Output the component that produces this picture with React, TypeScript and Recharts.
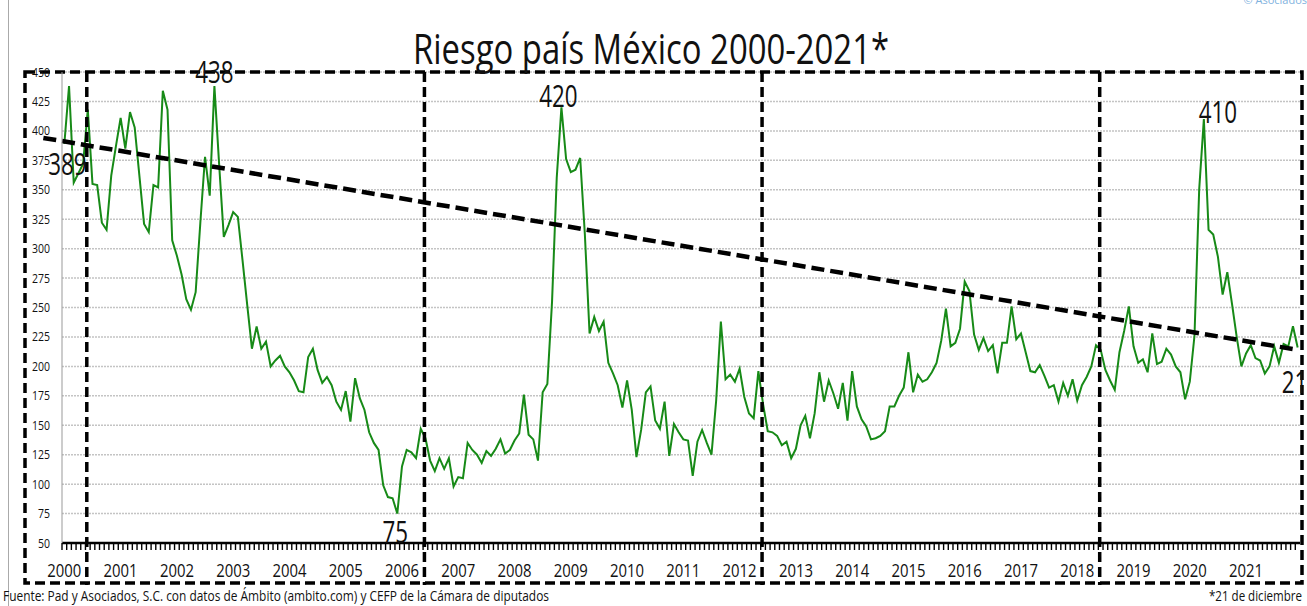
import React from "react";
import {
  LineChart,
  Line,
  XAxis,
  YAxis,
  CartesianGrid,
  ReferenceLine,
  ReferenceArea,
  LabelList,
} from "recharts";

const FONT = "'Liberation Sans Narrow', 'Arial Narrow', 'Open Sans', sans-serif";

const years = [
  "2000", "2001", "2002", "2003", "2004", "2005", "2006", "2007", "2008", "2009", "2010",
  "2011", "2012", "2013", "2014", "2015", "2016", "2017", "2018", "2019", "2020", "2021",
];

// puntos base, un valor por mes
const riesgo2000 = [389, 438, 356, 364, 372, 418, 355, 354, 322, 316, 362, 387];
const riesgo2001 = [411, 385, 416, 403, 362, 321, 314, 354, 352, 434, 418, 307];
const riesgo2002 = [294, 278, 257, 248, 263, 322, 378, 345, 438, 372, 310, 320];
const riesgo2003 = [331, 327, 290, 252, 215, 234, 215, 221, 200, 205, 209, 200];
const riesgo2004 = [195, 188, 179, 178, 208, 215, 197, 186, 191, 184, 170, 163];
const riesgo2005 = [179, 153, 190, 173, 163, 144, 135, 129, 99, 89, 88, 75];
const riesgo2006 = [115, 129, 127, 122, 147, 139, 120, 111, 122, 113, 122, 98];
const riesgo2007 = [106, 105, 135, 129, 125, 118, 128, 124, 130, 138, 126, 129];
const riesgo2008 = [137, 143, 176, 142, 138, 120, 178, 185, 255, 360, 420, 376];
const riesgo2009 = [365, 367, 377, 312, 228, 242, 230, 238, 203, 194, 184, 165];
const riesgo2010 = [188, 163, 123, 146, 178, 183, 154, 147, 170, 124, 151, 144];
const riesgo2011 = [138, 137, 107, 136, 146, 135, 125, 171, 238, 189, 193, 187];
const riesgo2012 = [198, 174, 160, 156, 196, 168, 145, 144, 141, 133, 136, 122];
const riesgo2013 = [130, 150, 158, 139, 160, 195, 170, 188, 177, 164, 186, 154];
const riesgo2014 = [196, 166, 155, 149, 138, 139, 141, 145, 166, 166, 175, 182];
const riesgo2015 = [212, 178, 193, 187, 189, 195, 203, 222, 249, 217, 220, 232];
const riesgo2016 = [272, 264, 227, 214, 224, 213, 218, 194, 220, 220, 251, 223];
const riesgo2017 = [228, 212, 196, 195, 201, 192, 182, 184, 170, 186, 175, 189];
const riesgo2018 = [171, 184, 191, 200, 218, 214, 197, 188, 180, 212, 230, 251];
const riesgo2019 = [217, 203, 206, 195, 228, 202, 204, 215, 210, 200, 195, 172];
const riesgo2020 = [187, 226, 350, 410, 316, 312, 293, 261, 280, 253, 225, 200];
const riesgo2021 = [211, 218, 207, 205, 194, 200, 217, 203, 219, 217, 234, 216];

const riesgoPorAnio = [
  riesgo2000, riesgo2001, riesgo2002, riesgo2003, riesgo2004, riesgo2005, riesgo2006,
  riesgo2007, riesgo2008, riesgo2009, riesgo2010, riesgo2011, riesgo2012, riesgo2013,
  riesgo2014, riesgo2015, riesgo2016, riesgo2017, riesgo2018, riesgo2019, riesgo2020,
  riesgo2021,
];

const yTicks = [50, 75, 100, 125, 150, 175, 200, 225, 250, 275, 300, 325, 350, 375, 400, 425, 450];

// linea de tendencia: valor al inicio y al final
const tendencia = [391, 214];
// elecciones presidenciales
const sexenios = ["2000-06", "2006-06", "2012-06", "2018-06"];
// meses con etiqueta
const picos = [0, 32, 71, 106, 243, 263];

const data = years.flatMap((y, i) =>
  riesgoPorAnio[i].map((v, m) => ({
    mes: `${y}-${String(m + 1).padStart(2, "0")}`,
    riesgo: v,
  }))
);

const labelPos: Record<number, { dx: number; dy: number; anchor: string }> = {
  0: { dx: 3, dy: 31, anchor: "middle" },
  32: { dx: 0, dy: -3, anchor: "middle" },
  71: { dx: -2, dy: 29, anchor: "middle" },
  106: { dx: -3, dy: 0, anchor: "middle" },
  243: { dx: 14, dy: 4, anchor: "middle" },
  263: { dx: -16, dy: 45, anchor: "start" },
};

function PeakLabel(p: any) {
  if (!picos.includes(p.index)) return null;
  const pos = labelPos[p.index];
  const txt = String(p.value);
  return (
    <text
      x={p.x + pos.dx}
      y={p.y + pos.dy}
      textAnchor={pos.anchor}
      fontSize={31}
      fontFamily={FONT}
      fill="#111"
      textLength={txt.length * 12.8}
      lengthAdjust="spacingAndGlyphs"
    >
      {txt}
    </text>
  );
}

function YearTick(p: any) {
  const val: string = p.payload?.value ?? "";
  const isJan = val.endsWith("-01");
  return (
    <g>
      <line x1={p.x - 2.35} x2={p.x - 2.35} y1={p.y} y2={p.y + 7} stroke="#000" strokeWidth={1.4} />
      {isJan && (
        <text
          x={p.x}
          y={p.y + 34}
          textAnchor="middle"
          fontSize={18}
          fontFamily={FONT}
          fill="#111"
          textLength={34}
          lengthAdjust="spacingAndGlyphs"
        >
          {val.slice(0, 4)}
        </text>
      )}
    </g>
  );
}

function ValueTick(p: any) {
  const txt = String(p.payload?.value ?? "");
  return (
    <text
      x={p.x}
      y={p.y + 4.5}
      textAnchor="end"
      fontSize={13}
      fontFamily={FONT}
      fill="#111"
      textLength={txt.length * 6}
      lengthAdjust="spacingAndGlyphs"
    >
      {txt}
    </text>
  );
}

const dash = { stroke: "#000", strokeWidth: 3.5, strokeDasharray: "10 5", fill: "none" };

export default function App() {
  const last = data[data.length - 1].mes;
  return (
    <div style={{ position: "absolute", left: 0, top: 0, width: 1307, height: 606, background: "#fff" }}>
      <LineChart
        width={1307}
        height={606}
        data={data}
        margin={{ top: 72, right: 7, bottom: 23, left: 0 }}
      >
        <CartesianGrid vertical={false} stroke="#c4c4c4" strokeWidth={1.5} strokeDasharray="2 1" />
        <XAxis
          dataKey="mes"
          interval={0}
          height={40}
          tickSize={0}
          tickMargin={0}
          padding={{ left: 2.35, right: 2.35 }}
          axisLine={{ stroke: "#000", strokeWidth: 2.5 }}
          tickLine={false}
          tick={(p: any) => <YearTick {...p} />}
        />
        <YAxis
          width={62}
          domain={[50, 450]}
          ticks={yTicks}
          interval={0}
          axisLine={{ stroke: "#999" }}
          tickLine={false}
          tickMargin={6}
          tick={(p: any) => <ValueTick {...p} />}
        />
        <Line
          dataKey="riesgo"
          stroke="#178a17"
          strokeWidth={2}
          dot={false}
          isAnimationActive={false}
        >
          <LabelList dataKey="riesgo" content={(p: any) => <PeakLabel {...p} />} />
        </Line>
        <ReferenceArea
          x1={data[0].mes}
          x2={last}
          y1={50}
          y2={450}
          ifOverflow="visible"
          shape={(p: any) => (
            <rect
              x={p.x - 39.35}
              y={p.y}
              width={p.width + 43.7}
              height={p.height + 40}
              {...dash}
            />
          )}
        />
        {sexenios.map((s) => (
          <ReferenceLine
            key={s}
            x={s}
            ifOverflow="visible"
            shape={(p: any) => (
              <line
                x1={p.x1 - 1}
                x2={p.x2 - 1}
                y1={Math.min(p.y1, p.y2)}
                y2={Math.max(p.y1, p.y2) + 42}
                {...dash}
              />
            )}
          />
        ))}
        <ReferenceLine
          segment={[
            { x: data[0].mes, y: tendencia[0] },
            { x: last, y: tendencia[1] },
          ]}
          ifOverflow="visible"
          shape={(p: any) => {
            const k = (p.y2 - p.y1) / (p.x2 - p.x1);
            return (
              <line
                x1={p.x1 - 21}
                y1={p.y1 - k * 21}
                x2={p.x2}
                y2={p.y2}
                stroke="#000"
                strokeWidth={4.5}
                strokeDasharray="13 6"
              />
            );
          }}
        />
      </LineChart>
      <svg
        width={1307}
        height={606}
        style={{ position: "absolute", left: 0, top: 0, pointerEvents: "none" }}
      >
        <line x1={8.5} x2={8.5} y1={0} y2={606} stroke="#aaa" />
        <text x={1307} y={4} textAnchor="end" fontSize={11} fontFamily={FONT} fill="#7fb2de">
          © Asociados
        </text>
        <text
          x={651}
          y={64}
          textAnchor="middle"
          fontSize={42}
          fontFamily={FONT}
          fill="#111"
          textLength={476}
          lengthAdjust="spacingAndGlyphs"
        >
          Riesgo país México 2000-2021*
        </text>
        <text x={3} y={601} fontSize={14} fontFamily={FONT} fill="#111" textLength={546} lengthAdjust="spacingAndGlyphs">
          Fuente: Pad y Asociados, S.C. con datos de Ámbito (ambito.com) y CEFP de la Cámara de diputados
        </text>
        <text
          x={1302}
          y={601}
          textAnchor="end"
          fontSize={14}
          fontFamily={FONT}
          fill="#111"
          textLength={93}
          lengthAdjust="spacingAndGlyphs"
        >
          *21 de diciembre
        </text>
      </svg>
    </div>
  );
}
